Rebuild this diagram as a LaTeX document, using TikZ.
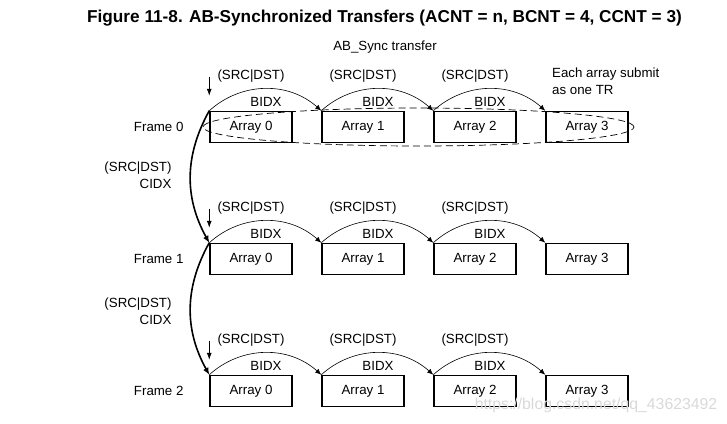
\documentclass[tikz,border=0pt]{standalone}
\usepackage{fontspec}
\setmainfont{Liberation Sans}
\usetikzlibrary{arrows.meta,shapes.geometric}

\tikzset{
  arr/.style={draw,line width=1.5pt,minimum width=82pt,minimum height=31pt,inner sep=0pt},
  bidx/.style={line width=0.6pt,-{Latex[length=6pt,width=5pt]}},
  cidx/.style={line width=1.6pt,-{Latex[length=7pt,width=6pt]}},
  down/.style={line width=0.7pt,-{Latex[length=7pt,width=5pt]}},
  onetr/.style={draw,dashed,ellipse,line width=0.7pt,dash pattern=on 7pt off 4pt,inner sep=0pt}
}

\begin{document}
\begin{tikzpicture}[x=1pt,y=-1pt,font=\fontsize{13.3}{17}\selectfont]
\useasboundingbox (0,0) rectangle (727,423);

\node[font=\bfseries\fontsize{17.2}{20}\selectfont] (title) at (384.5,18) {Figure 11-8. AB-Synchronized Transfers (ACNT = n, BCNT = 4, CCNT = 3)};
\node (sync) at (385,47) {AB\_Sync transfer};

% frames and arrays
\foreach \r in {0,1,2} {
  \node[anchor=east] (f\r) at (187,127+132*\r) {Frame \r};
  \foreach \i in {0,...,3}
    \node[arr] (a\r\i) at (251+112*\i,127+132*\r) {Array \i};
  \foreach \i/\j in {0/1,1/2,2/3} {
    \node (s\r\i) at (251+112*\i,76+132*\r) {(SRC|DST)};
    \node (b\r\i) at (266+112*\i,101.5+132*\r) {BIDX};
    \draw[bidx] (a\r\i.north west) to[bend left=42] (a\r\j.north west);
  }
  \coordinate (d\r) at ([yshift=34pt]a\r0.north west);
  \draw[down] (d\r) -- ([yshift=15pt]a\r0.north west);
}

% frame index
\foreach \r/\s in {0/1,1/2} {
  \node[anchor=east,align=right] (c\r) at (175,175+136*\r) {(SRC|DST)\\CIDX};
  \draw[cidx] (a\r0.north west) to[bend right=29] (a\s0.north west);
}

\node[onetr,minimum width=431pt,minimum height=38pt] (tr) at (418.5,127) {};
\node[anchor=north west,align=left,inner sep=0pt] (each) at (552,68) {Each array submit\\as one TR};

\node[text=gray!30,font=\fontsize{15.8}{18}\selectfont] (wm) at (596,405) {https://blog.csdn.net/qq\_43623492};

\end{tikzpicture}
\end{document}
